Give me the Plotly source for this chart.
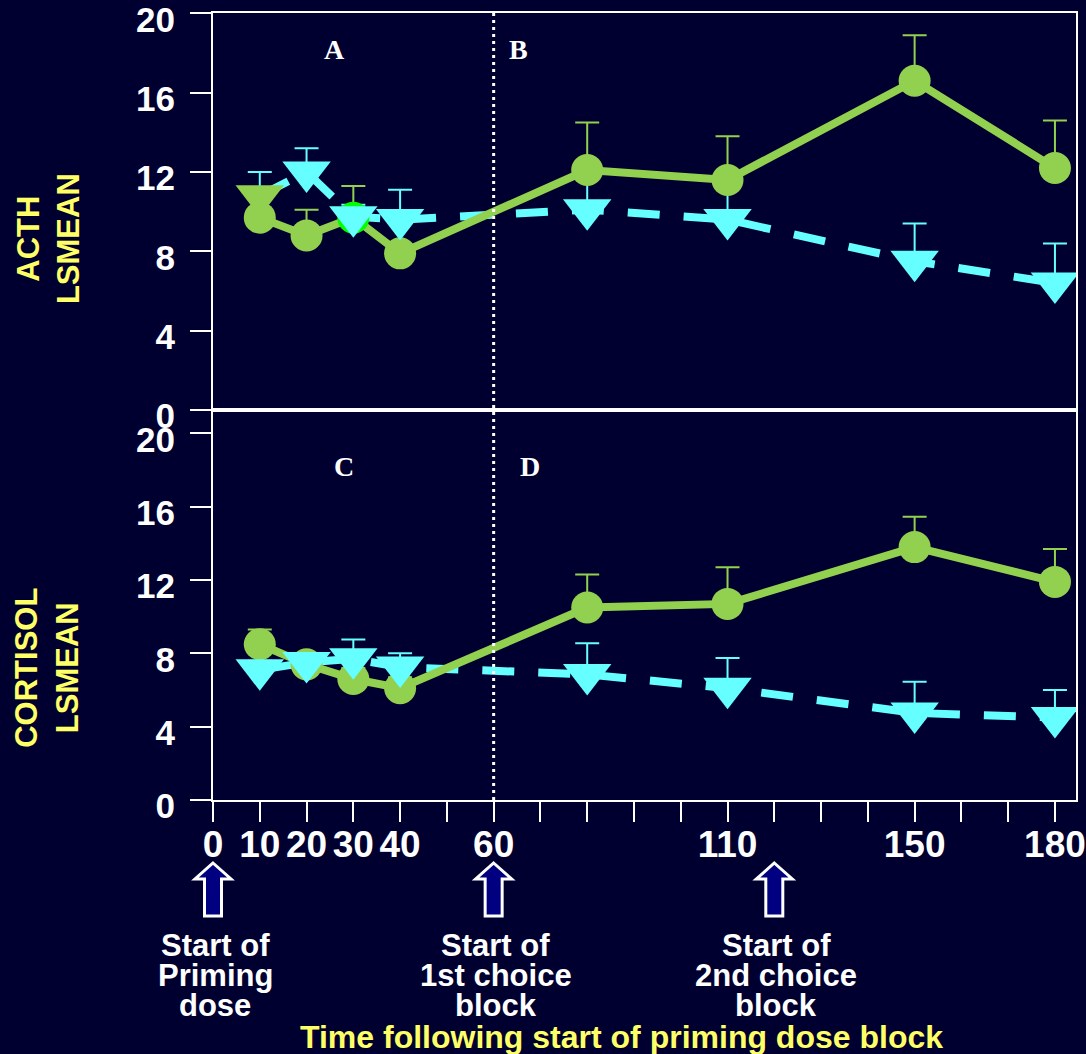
import plotly.graph_objects as go

# ---------------- data ----------------
time_min = [10, 20, 30, 40, 80, 110, 150, 180]

acth_green = [9.7, 8.8, 9.7, 7.9, 12.1, 11.6, 16.6, 12.2]
acth_green_err = [1.2, 1.3, 1.6, 1.8, 2.4, 2.2, 2.3, 2.4]
acth_cyan = [10.8, 12.0, 9.75, 9.6, 10.1, 9.6, 7.5, 6.4]
acth_cyan_err = [1.2, 1.2, 0.6, 1.5, 1.9, 1.7, 1.9, 2.0]

cort_green = [8.5, 7.4, 6.6, 6.1, 10.5, 10.7, 13.8, 11.9]
cort_green_err = [0.8, 0.6, 0.6, 0.6, 1.8, 2.0, 1.65, 1.8]
cort_cyan = [7.1, 7.5, 7.7, 7.25, 6.85, 6.1, 4.75, 4.5]
cort_cyan_err = [0.5, 0.5, 1.05, 0.75, 1.7, 1.65, 1.7, 1.5]

x_tick_vals = list(range(0, 190, 10))
x_tick_labels = {0: "0", 10: "10", 20: "20", 30: "30", 40: "40", 60: "60",
                 110: "110", 150: "150", 180: "180"}
y_tick_vals = [0, 4, 8, 12, 16, 20]

block_starts = [0, 60, 120]
block_labels = [["Start of", "Priming", "dose"],
                ["Start of", "1st choice", "block"],
                ["Start of", "2nd choice", "block"]]
panel_letters = ["A", "B", "C", "D"]

# ---------------- style ----------------
BG = "#000030"
GREEN = "#92D050"
CYAN = "#66FFFF"
YELLOW = "#FFFF66"
WHITE = "#FFFFFF"
SANS = "Liberation Sans, Arial, sans-serif"
SERIF = "Liberation Serif, Times New Roman, serif"

X_RANGE = [0, 184.5]

fig = go.Figure()


def add_panel(green, green_err, cyan, cyan_err, xa, ya, green_colors, cyan_colors):
    n = len(time_min)
    # cyan dashed line with error bars (drawn first)
    fig.add_trace(go.Scatter(
        x=time_min, y=cyan, mode="lines", xaxis=xa, yaxis=ya,
        line=dict(color=CYAN, width=8, dash="32px,24px"),
        error_y=dict(type="data", symmetric=False, array=cyan_err,
                     arrayminus=[0] * n, color=CYAN, thickness=2, width=12),
        showlegend=False, hoverinfo="skip"))
    # green solid line with circles and error bars
    fig.add_trace(go.Scatter(
        x=time_min, y=green, mode="lines+markers", xaxis=xa, yaxis=ya,
        line=dict(color=GREEN, width=8),
        marker=dict(symbol="circle", size=32, color=green_colors, line=dict(width=0)),
        error_y=dict(type="data", symmetric=False, array=green_err,
                     arrayminus=[0] * n, color=GREEN, thickness=2, width=12),
        showlegend=False, hoverinfo="skip"))
    # cyan triangles on top
    fig.add_trace(go.Scatter(
        x=time_min, y=cyan, mode="markers", xaxis=xa, yaxis=ya,
        marker=dict(symbol="triangle-down", size=42, color=cyan_colors, line=dict(width=0)),
        showlegend=False, hoverinfo="skip"))


n = len(time_min)
# top panel (ACTH)
add_panel(acth_green, acth_green_err, acth_cyan, acth_cyan_err, "x2", "y2",
          [GREEN, GREEN, "#00FF00"] + [GREEN] * (n - 3),
          [GREEN] + [CYAN] * (n - 1))
# bottom panel (Cortisol)
add_panel(cort_green, cort_green_err, cort_cyan, cort_cyan_err, "x", "y",
          [GREEN] * n, [CYAN] * n)

tickfont = dict(family=SANS, size=35, color=WHITE, weight="bold")
axis_common = dict(showline=True, linecolor=WHITE, linewidth=2, mirror=True,
                   showgrid=False, zeroline=False, automargin=False)

fig.update_layout(
    width=1086, height=1054,
    paper_bgcolor=BG, plot_bgcolor=BG,
    margin=dict(l=213, r=10, t=13, b=254, autoexpand=False),
    xaxis=dict(domain=[0, 1], anchor="y", range=X_RANGE,
               tickmode="array", tickvals=x_tick_vals,
               ticktext=[x_tick_labels.get(v, "") for v in x_tick_vals],
               ticks="outside", ticklen=20, tickwidth=2, tickcolor=WHITE,
               ticklabelstandoff=-9, ticklabeloverflow="allow",
               tickfont=dict(family=SANS, size=37, color=WHITE, weight="bold"),
               **axis_common),
    xaxis2=dict(domain=[0, 1], anchor="y2", range=X_RANGE, matches="x",
                showticklabels=False, ticks="", **axis_common),
    yaxis=dict(domain=[0, 0.4956], anchor="x", range=[0, 21.28],
               tickmode="array", tickvals=y_tick_vals,
               ticks="outside", ticklen=21, tickwidth=2, tickcolor=WHITE,
               ticklabelstandoff=8, ticklabelshift=6, ticklabeloverflow="allow",
               tickfont=tickfont, **axis_common),
    yaxis2=dict(domain=[0.4956, 1], anchor="x2", range=[0, 20.02],
                tickmode="array", tickvals=y_tick_vals,
                ticks="outside", ticklen=21, tickwidth=2, tickcolor=WHITE,
                ticklabelstandoff=8, ticklabelshift=6, ticklabeloverflow="allow",
                tickfont=tickfont, **axis_common),
)

shapes = []
# dotted vertical line at start of 1st choice block
shapes.append(dict(type="line", xref="x", x0=block_starts[1], x1=block_starts[1],
                   yref="paper", y0=0, y1=1,
                   line=dict(color=WHITE, width=3, dash="3px,4px")))


def x_to_paper(v):
    return (v - X_RANGE[0]) / (X_RANGE[1] - X_RANGE[0])


arrow_path = ("M0,-63 L18,-79 L8.5,-79 L8.5,-116 L-8.5,-116 L-8.5,-79 L-18,-79 Z")
for s in block_starts:
    shapes.append(dict(type="path", xref="paper", xsizemode="pixel", xanchor=x_to_paper(s),
                       yref="paper", ysizemode="pixel", yanchor=0,
                       path=arrow_path, fillcolor="#000080",
                       line=dict(color=WHITE, width=3)))
fig.update_layout(shapes=shapes)

annotations = []
label_font = dict(family=SANS, size=31, color=WHITE, weight="bold")
for s, lines in zip(block_starts, block_labels):
    for i, t in enumerate(lines):
        annotations.append(dict(text=t, xref="x", x=s, yref="paper", y=0,
                                yshift=-(145 + 30 * i), xshift=2, showarrow=False,
                                xanchor="center", yanchor="middle", font=label_font))

annotations.append(dict(text="Time following start of priming dose block",
                        xref="paper", x=0.4728, yref="paper", y=0, yshift=-237,
                        showarrow=False, xanchor="center", yanchor="middle",
                        font=dict(family=SANS, size=32, color=YELLOW, weight="bold")))

ytitle_font = dict(family=SANS, size=31, color=YELLOW, weight="bold")
annotations.append(dict(text="ACTH<br>LSMEAN", xref="paper", x=0, xshift=-165,
                        yref="paper", y=0.714, yshift=-1, textangle=-90, showarrow=False,
                        xanchor="center", yanchor="middle", font=ytitle_font))
annotations.append(dict(text="CORTISOL<br>LSMEAN", xref="paper", x=0, xshift=-166,
                        yref="paper", y=0.168, textangle=-90, showarrow=False,
                        xanchor="center", yanchor="middle", font=ytitle_font))

letter_font = dict(family=SERIF, size=28, color=WHITE, weight="bold")
letter_pos = [("x2", "y2", 25.9, 18.2), ("x2", "y2", 65.4, 18.2),
              ("x", "y", 28.0, 18.2), ("x", "y", 67.8, 18.2)]
for letter, (xr, yr, xv, yv) in zip(panel_letters, letter_pos):
    annotations.append(dict(text=letter, xref=xr, yref=yr, x=xv, y=yv,
                            showarrow=False, font=letter_font))

fig.update_layout(annotations=annotations)

fig.write_html("out.html")
